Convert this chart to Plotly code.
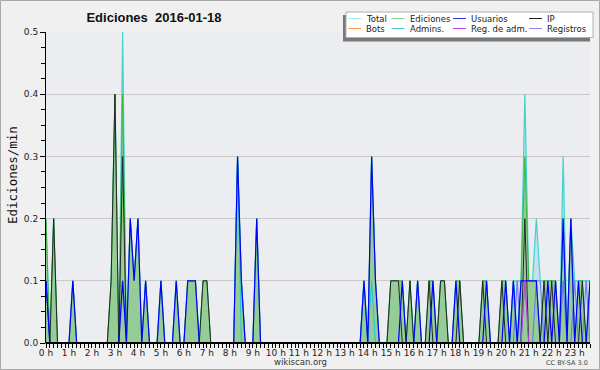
import plotly.graph_objects as go

# ---------------- data (10-minute bins, edits per minute) ----------------
bin_minutes = list(range(0, 1430, 10))  # 143 bins, 00:00 .. 23:40

hour_ticks = [0, 1, 2, 3, 4, 5, 6, 7, 8, 9, 10, 11, 12, 13, 14, 15, 16, 17, 18, 19, 20, 21, 22, 23]
hour_labels = ["0 h", "1 h", "2 h", "3 h", "4 h", "5 h", "6 h", "7 h", "8 h", "9 h", "10 h", "11 h",
               "12 h", "13 h", "14 h", "15 h", "16 h", "17 h", "18 h", "19 h", "20 h", "21 h", "22 h", "23 h"]

total = [
    .2, 0, .2, 0, 0, 0, 0, .1, 0, 0, 0, 0,
    0, 0, 0, 0, 0, .1, .4, 0, .5, 0, .2, .1,
    .2, 0, .1, 0, 0, 0, .1, 0, 0, 0, .1, 0,
    0, .1, .1, .1, 0, .1, .1, 0, 0, 0, 0, 0,
    0, 0, .3, .1, 0, 0, 0, .2, 0, 0, 0, 0,
    0, 0, 0, 0, 0, 0, 0, 0, 0, 0, 0, 0,
    0, 0, 0, 0, 0, 0, 0, 0, 0, 0, 0, .1,
    0, .3, .1, 0, 0, 0, .1, .1, .1, .1, 0, .1,
    0, .1, 0, 0, .1, .1, 0, .1, .1, 0, 0, .1,
    .1, 0, 0, 0, 0, 0, .1, .1, 0, 0, 0, .1,
    .1, 0, .1, .1, .1, .4, .1, .1, .2, .1, .1, .1,
    .1, .1, 0, .3, 0, .2, .1, .1, .1, .1, .1,
]
ediciones = [
    .2, 0, .2, 0, 0, 0, 0, .1, 0, 0, 0, 0,
    0, 0, 0, 0, 0, .1, .4, 0, .4, 0, .2, .1,
    .2, 0, .1, 0, 0, 0, .1, 0, 0, 0, .1, 0,
    0, .1, .1, .1, 0, .1, .1, 0, 0, 0, 0, 0,
    0, 0, .3, .1, 0, 0, 0, .2, 0, 0, 0, 0,
    0, 0, 0, 0, 0, 0, 0, 0, 0, 0, 0, 0,
    0, 0, 0, 0, 0, 0, 0, 0, 0, 0, 0, .1,
    0, .3, .1, 0, 0, 0, .1, .1, .1, .1, 0, .1,
    0, .1, 0, 0, .1, .1, 0, .1, .1, 0, 0, .1,
    .1, 0, 0, 0, 0, 0, .1, .1, 0, 0, 0, .1,
    .1, 0, .1, 0, .1, .3, .1, .1, .1, 0, .1, .1,
    .1, .1, 0, .2, 0, .2, 0, .1, .1, 0, .1,
]
usuarios = [
    .1, 0, 0, 0, 0, 0, 0, .1, 0, 0, 0, 0,
    0, 0, 0, 0, 0, 0, 0, 0, .1, 0, .2, .1,
    .2, 0, .1, 0, 0, 0, .1, 0, 0, 0, .1, 0,
    0, .1, .1, .1, 0, 0, 0, 0, 0, 0, 0, 0,
    0, 0, .3, .1, 0, 0, 0, .2, 0, 0, 0, 0,
    0, 0, 0, 0, 0, 0, 0, 0, 0, 0, 0, 0,
    0, 0, 0, 0, 0, 0, 0, 0, 0, 0, 0, .1,
    0, .3, .1, 0, 0, 0, 0, 0, 0, .1, 0, 0,
    0, .1, 0, 0, 0, .1, 0, 0, 0, 0, 0, .1,
    0, 0, 0, 0, 0, 0, 0, .1, 0, 0, 0, 0,
    .1, 0, .1, 0, .1, .1, .1, .1, .1, 0, 0, .1,
    0, .1, 0, .2, 0, .2, 0, .1, 0, 0, .1,
]
ip = [
    .1, 0, .2, 0, 0, 0, 0, 0, 0, 0, 0, 0,
    0, 0, 0, 0, 0, .1, .4, 0, .3, 0, 0, 0,
    0, 0, 0, 0, 0, 0, 0, 0, 0, 0, 0, 0,
    0, 0, 0, 0, 0, .1, .1, 0, 0, 0, 0, 0,
    0, 0, 0, 0, 0, 0, 0, 0, 0, 0, 0, 0,
    0, 0, 0, 0, 0, 0, 0, 0, 0, 0, 0, 0,
    0, 0, 0, 0, 0, 0, 0, 0, 0, 0, 0, 0,
    0, 0, 0, 0, 0, 0, .1, .1, .1, 0, 0, .1,
    0, 0, 0, 0, .1, 0, 0, .1, .1, 0, 0, 0,
    .1, 0, 0, 0, 0, 0, .1, 0, 0, 0, 0, .1,
    0, 0, 0, 0, 0, .2, 0, 0, 0, 0, .1, 0,
    .1, 0, 0, 0, 0, 0, 0, 0, .1, 0, 0,
]
bots = [
    0, 0, 0, 0, 0, 0, 0, 0, 0, 0, 0, 0,
    0, 0, 0, 0, 0, 0, 0, 0, 0, 0, 0, 0,
    0, 0, 0, 0, 0, 0, 0, 0, 0, 0, 0, 0,
    0, 0, 0, 0, 0, 0, 0, 0, 0, 0, 0, 0,
    0, 0, 0, 0, 0, 0, 0, 0, 0, 0, 0, 0,
    0, 0, 0, 0, 0, 0, 0, 0, 0, 0, 0, 0,
    0, 0, 0, 0, 0, 0, 0, 0, 0, 0, 0, 0,
    0, 0, 0, 0, 0, 0, 0, 0, 0, 0, 0, 0,
    0, 0, 0, 0, 0, 0, 0, 0, 0, 0, 0, 0,
    0, 0, 0, 0, 0, 0, 0, 0, 0, 0, 0, 0,
    0, 0, 0, 0, 0, 0, 0, 0, 0, 0, 0, 0,
    0, 0, 0, 0, 0, 0, 0, 0, 0, 0, 0,
]
admins = [
    .1, 0, 0, 0, 0, 0, 0, 0, 0, 0, 0, 0,
    0, 0, 0, 0, 0, 0, 0, 0, 0, 0, 0, 0,
    0, 0, 0, 0, 0, 0, 0, 0, 0, 0, 0, 0,
    0, 0, 0, 0, 0, 0, 0, 0, 0, 0, 0, 0,
    0, 0, .3, 0, 0, 0, 0, 0, 0, 0, 0, 0,
    0, 0, 0, 0, 0, 0, 0, 0, 0, 0, 0, 0,
    0, 0, 0, 0, 0, 0, 0, 0, 0, 0, 0, .1,
    0, .1, 0, 0, 0, 0, 0, 0, 0, 0, 0, 0,
    0, 0, 0, 0, 0, 0, 0, 0, 0, 0, 0, 0,
    0, 0, 0, 0, 0, 0, 0, 0, 0, 0, 0, 0,
    0, 0, .1, 0, 0, 0, 0, 0, 0, 0, 0, 0,
    0, 0, 0, .2, 0, 0, 0, 0, 0, 0, 0,
]
reg_adm = [
    0, 0, 0, 0, 0, 0, 0, 0, 0, 0, 0, 0,
    0, 0, 0, 0, 0, 0, 0, 0, 0, 0, 0, 0,
    0, 0, 0, 0, 0, 0, 0, 0, 0, 0, 0, 0,
    0, 0, 0, 0, 0, 0, 0, 0, 0, 0, 0, 0,
    0, 0, 0, 0, 0, 0, 0, 0, 0, 0, 0, 0,
    0, 0, 0, 0, 0, 0, 0, 0, 0, 0, 0, 0,
    0, 0, 0, 0, 0, 0, 0, 0, 0, 0, 0, 0,
    0, 0, 0, 0, 0, 0, 0, 0, 0, 0, 0, 0,
    0, 0, 0, 0, 0, 0, 0, 0, 0, 0, 0, 0,
    0, 0, 0, 0, 0, 0, 0, 0, 0, 0, 0, 0,
    0, 0, 0, 0, 0, .1, 0, 0, 0, 0, 0, 0,
    0, 0, 0, 0, 0, 0, 0, 0, 0, 0, 0,
]
registros = [
    0, 0, 0, 0, 0, 0, 0, 0, 0, 0, 0, 0,
    0, 0, 0, 0, 0, 0, 0, 0, .1, 0, 0, 0,
    0, 0, 0, 0, 0, 0, 0, 0, 0, 0, 0, 0,
    0, 0, 0, 0, 0, 0, 0, 0, 0, 0, 0, 0,
    0, 0, 0, 0, 0, 0, 0, 0, 0, 0, 0, 0,
    0, 0, 0, 0, 0, 0, 0, 0, 0, 0, 0, 0,
    0, 0, 0, 0, 0, 0, 0, 0, 0, 0, 0, 0,
    0, 0, 0, 0, 0, 0, 0, 0, 0, 0, 0, 0,
    0, 0, 0, 0, 0, 0, 0, 0, 0, 0, 0, 0,
    0, 0, 0, 0, 0, 0, 0, 0, 0, 0, 0, 0,
    0, 0, 0, .1, 0, .1, 0, 0, .1, .1, 0, 0,
    0, 0, 0, .1, 0, 0, .1, 0, 0, .1, 0,
]

legend_labels = ["Total", "Ediciones", "Usuarios", "IP", "Bots", "Admins.", "Reg. de adm.", "Registros"]

title_text = "Ediciones\u00a0 2016-01-18"
y_title = "Ediciones/min"
footer_center = "wikiscan.org"
footer_right = "CC BY-SA 3.0"

# ---------------- styling ----------------
W, H = 600, 370
ML, MR, MT, MB = 46, 10, 32, 27
PW, PH = W - ML - MR, H - MT - MB

def px(x):
    return (x - ML) / PW

def py(y):
    return (H - MB - y) / PH

hours = [m / 60 for m in bin_minutes]

C_TOTAL_LINE = "#3fd4cc"
C_TOTAL_FILL = "#c3e1ee"
C_ED_FILL = "#96cc96"
C_ED_LINE = "#3cb43c"
C_US = "#0000ff"
C_IP = "#262626"
C_ADM = "#22c4dc"
C_REG = "#7070f0"
C_RADM = "#d040e0"
C_BOTS = "#ff9933"

fig = go.Figure()
fig.add_trace(go.Scatter(x=hours, y=total, mode="lines", fill="tozeroy",
                         fillcolor=C_TOTAL_FILL, line=dict(color=C_TOTAL_LINE, width=1.2)))
fig.add_trace(go.Scatter(x=hours, y=ediciones, mode="lines", fill="tozeroy",
                         fillcolor=C_ED_FILL, line=dict(color=C_ED_LINE, width=1)))
fig.add_trace(go.Scatter(x=hours, y=admins, mode="lines", line=dict(color=C_ADM, width=1)))
fig.add_trace(go.Scatter(x=hours, y=registros, mode="lines", line=dict(color=C_REG, width=1)))
fig.add_trace(go.Scatter(x=hours, y=ip, mode="lines", line=dict(color=C_IP, width=1)))
fig.add_trace(go.Scatter(x=hours, y=usuarios, mode="lines", line=dict(color=C_US, width=1.2)))
fig.add_trace(go.Scatter(x=hours, y=reg_adm, mode="lines", line=dict(color=C_RADM, width=1)))
fig.add_trace(go.Scatter(x=hours, y=bots, mode="lines", line=dict(color=C_BOTS, width=1)))

fig.update_layout(
    width=W, height=H,
    margin=dict(l=ML, r=MR, t=MT, b=MB),
    paper_bgcolor="#f0f0f0",
    plot_bgcolor="#ecedf0",
    showlegend=False,
    title=dict(text=title_text, x=154 / W, xanchor="center", y=1 - 17 / H, yanchor="middle",
               xref="container", yref="container",
               font=dict(family="Liberation Sans", size=13, color="#111", weight="bold")),
)

fig.update_xaxes(
    range=[0, hours[-1]], tickvals=hour_ticks, ticktext=hour_labels,
    ticks="outside", ticklen=4, tickcolor="black", tickwidth=1,
    showline=False,
    showgrid=False, zeroline=False,
    ticklabelstandoff=-3,
    tickfont=dict(family="DejaVu Sans", size=9, color="#222"),
    minor=dict(dtick=1 / 6, tick0=0, ticks="outside", ticklen=4, tickcolor="black", showgrid=False),
)
fig.update_yaxes(
    range=[0, 0.5], tickvals=[0, 0.1, 0.2, 0.3, 0.4, 0.5], tickformat=".1f",
    ticks="outside", ticklen=5, tickcolor="black",
    showline=True, linecolor="black", linewidth=1,
    showgrid=True, gridcolor="#c9c9c9", gridwidth=1, zeroline=False,
    tickfont=dict(family="DejaVu Sans", size=9, color="#222"),
    minor=dict(dtick=0.025, tick0=0, ticks="outside", ticklen=4, tickcolor="black", showgrid=False),
)

shapes = []
annotations = []

# x axis baseline drawn over the zero-valued series
shapes.append(dict(type="line", xref="paper", yref="paper", x0=px(45.5), x1=1, y0=0, y1=0,
                   line=dict(color="black", width=2), layer="above"))

# outer frame
shapes.append(dict(type="rect", xref="paper", yref="paper",
                   x0=px(0.5), x1=px(W - 0.5), y0=py(0.5), y1=py(H - 0.5),
                   line=dict(color="#a8a8a8", width=1), fillcolor="rgba(0,0,0,0)", layer="above"))

# legend box with shadow
shapes.append(dict(type="rect", xref="paper", yref="paper",
                   x0=px(343), x1=px(590), y0=py(41.5), y1=py(15),
                   line=dict(width=0), fillcolor="#777777", layer="above"))
shapes.append(dict(type="rect", xref="paper", yref="paper",
                   x0=px(346), x1=px(593), y0=py(37.5), y1=py(12),
                   line=dict(color="#b0b0b0", width=1), fillcolor="white", layer="above"))

legend_colors = ["#a8e6e6", "#88cc88", "#3030d8", "#222222",
                 "#ffa040", "#44c8e0", "#cc44dd", "#8888ee"]
col_swatch_x = [348, 391.5, 453, 529]
row_y = [18.5, 28.5]
for k, lab in enumerate(legend_labels):
    r, c = divmod(k, 4)
    sx = col_swatch_x[c]
    yy = row_y[r]
    shapes.append(dict(type="line", xref="paper", yref="paper",
                       x0=px(sx), x1=px(sx + 13), y0=py(yy), y1=py(yy),
                       line=dict(color=legend_colors[k], width=1), layer="above"))
    annotations.append(dict(text=lab, xref="paper", yref="paper", x=px(sx + 16), y=py(yy),
                            xanchor="left", yanchor="middle", showarrow=False,
                            font=dict(family="DejaVu Sans", size=8.5, color="#222")))

# y-axis title
annotations.append(dict(text=y_title, xref="paper", yref="paper", x=px(12), y=py(175),
                        xanchor="center", yanchor="middle", textangle=-90, showarrow=False,
                        font=dict(family="DejaVu Sans Mono", size=12.5, color="#111")))
# footers
annotations.append(dict(text=footer_center, xref="paper", yref="paper", x=px(300), y=py(362),
                        xanchor="center", yanchor="middle", showarrow=False,
                        font=dict(family="DejaVu Sans", size=8.5, color="#333")))
annotations.append(dict(text=footer_right, xref="paper", yref="paper", x=px(590), y=py(362.5),
                        xanchor="right", yanchor="middle", showarrow=False,
                        font=dict(family="DejaVu Sans", size=6.5, color="#444")))

fig.update_layout(shapes=shapes, annotations=annotations)

fig.write_html("out.html")
